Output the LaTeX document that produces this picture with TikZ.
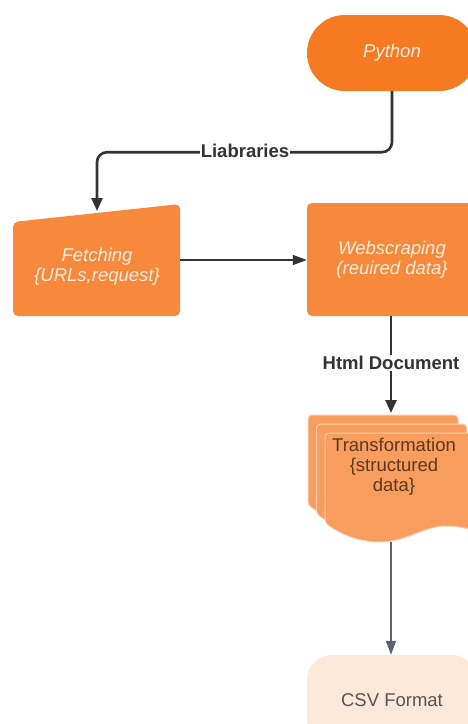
\documentclass[tikz,border=0pt]{standalone}
\usepackage{fontspec}
\setmainfont{Liberation Sans}
\usetikzlibrary{arrows.meta}
\definecolor{pyorange}{RGB}{245,122,34}
\definecolor{boxorange}{RGB}{247,137,60}
\definecolor{docorange}{RGB}{248,157,94}
\definecolor{docedge}{RGB}{252,205,170}
\definecolor{csvpeach}{RGB}{253,232,218}
\definecolor{boxtextcol}{RGB}{255,238,224}
\definecolor{doctext}{RGB}{92,56,30}
\definecolor{csvtext}{RGB}{85,85,85}
\definecolor{linegray}{RGB}{51,51,51}
\definecolor{csvline}{RGB}{95,98,108}
\tikzset{
  boxtext/.style={text=boxtextcol, font=\fontsize{18.5}{20}\selectfont\itshape, align=center},
  plaintext/.style={font=\fontsize{18.5}{20}\selectfont, align=center},
  linklabel/.style={font=\fontsize{18.5}{20}\selectfont\bfseries, text=linegray, fill=white, inner sep=1pt},
  thickflow/.style={draw=linegray, line width=2.6pt, -{Triangle[length=13pt,width=11pt]}},
  thinflow/.style={draw=linegray, line width=1.3pt, -{Triangle[length=14pt,width=10pt]}}
}
\begin{document}
\begin{tikzpicture}[x=1pt,y=-1pt]
  \useasboundingbox (0,0) rectangle (468,724);
  % python
  \node[fill=pyorange, rounded corners=37.9pt, minimum width=170pt, minimum height=76pt, boxtext] (python) at (392,53) {Python};
  % fetching
  \fill[boxorange, rounded corners=5pt] (13,222) -- (180,204) -- (180,316) -- (13,316) -- cycle;
  \node[boxtext] (fetch) at (97,267) {Fetching\\\{URLs,request\}};
  \coordinate (fetchin) at (97,211);
  \coordinate (fetchout) at (180,260);
  % webscraping
  \node[fill=boxorange, rounded corners=5pt, minimum width=170pt, minimum height=113pt, boxtext] (web) at (392,259.5) {Webscraping\\(reuired data\}};
  % transformation
  \foreach \dx/\dy in {0/0, 8.5/9, 17/18}{
    \begin{scope}[shift={(308+\dx,415+\dy)}]
      \filldraw[fill=docorange, draw=docedge, line width=1pt]
        (150,98) [rounded corners=4pt] -- (150,0) -- (0,0) -- (0,90) [sharp corners]
        .. controls (20,104) and (38,109) .. (55,109)
        .. controls (80,109) and (100,93) .. (120,93)
        .. controls (132,93) and (142,95) .. (150,98) -- cycle;
    \end{scope}
  }
  \node[plaintext, text=doctext] (trans) at (394,467) {Transformation\\\{structured\\data\}};
  \coordinate (transin) at (391,413);
  \coordinate (transout) at (391,542);
  % csv
  \node[fill=csvpeach, rounded corners=25pt, minimum width=170pt, minimum height=90pt, plaintext, text=csvtext] (csv) at (392,700) {CSV Format};

  \draw[thickflow, rounded corners=10pt] (python.south) -- ++(0,61) -| (fetchin);
  \node[linklabel] (liblabel) at (245,151) {Liabraries};
  \draw[thinflow] (fetchout) -- (web.west |- fetchout);
  \draw[thickflow] (web.south -| transin) -- (transin);
  \node[linklabel] (htmllabel) at (391,363) {Html Document};
  \draw[thinflow, draw=csvline, line width=1.8pt] (transout) -- (csv.north -| transout);
\end{tikzpicture}
\end{document}
